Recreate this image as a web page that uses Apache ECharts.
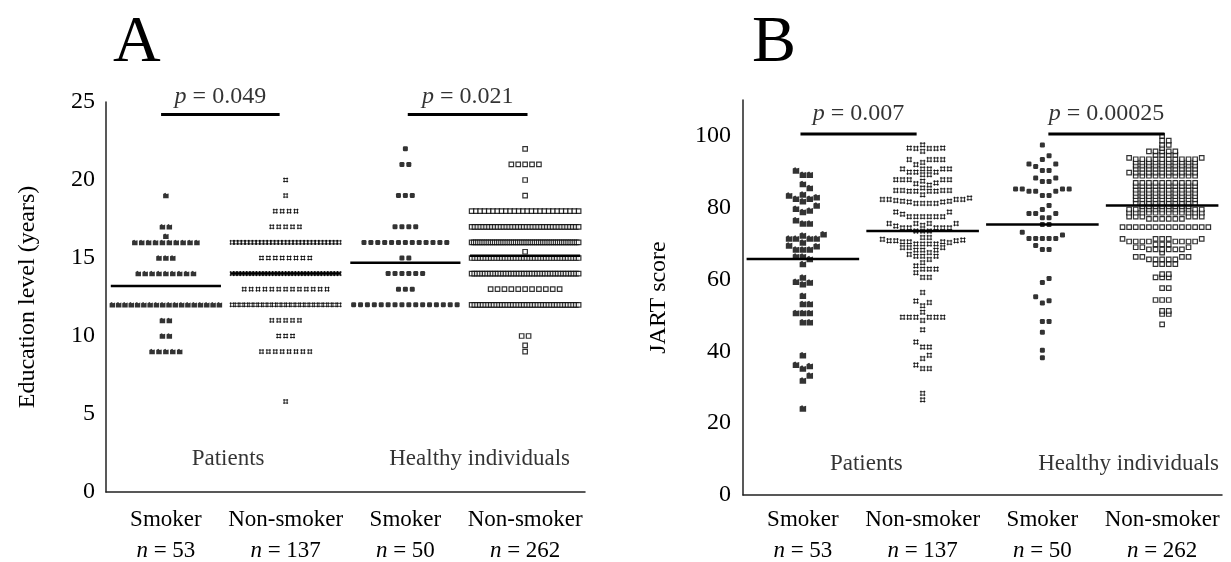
<!DOCTYPE html>
<html><head><meta charset="utf-8">
<script src="https://cdn.jsdelivr.net/npm/echarts@6/dist/echarts.min.js"></script>
<style>html,body{margin:0;padding:0;background:#fff}#c{width:1231px;height:562px}</style>
</head><body><div id="c"></div>
<script>
// ---------------- DATA ----------------
const categories = ['Smoker', 'Non-smoker', 'Smoker', 'Non-smoker'];
const nLabels = ['53', '137', '50', '262'];
const groupLabels = ['Patients', 'Healthy individuals'];
const pValuesA = ['0.049', '0.021'];
const pValuesB = ['0.007', '0.00025'];
const eduMeans = [13.2, 14.0, 14.7, 15.15];
const jartMeans = [65.7, 73.5, 75.3, 80.6];

// Panel A: education level (years)
const eduPatSmoker = [19,
  17, 17,
  16.4,
  16, 16, 16, 16, 16, 16, 16, 16, 16, 16,
  15, 15, 15,
  14, 14, 14, 14, 14, 14, 14, 14, 14,
  12, 12, 12, 12, 12, 12, 12, 12, 12, 12, 12, 12, 12, 12, 12, 12, 12, 12,
  11, 11,
  10, 10,
  9, 9, 9, 9, 9];
const eduPatNon = [20, 19,
  18, 18, 18, 18,
  17, 17, 17, 17, 17,
  16, 16, 16, 16, 16, 16, 16, 16, 16, 16, 16, 16, 16, 16, 16, 16, 16, 16, 16, 16, 16, 16, 16, 16, 16, 16, 16, 16, 16, 16,
  15, 15, 15, 15, 15, 15, 15, 15,
  14, 14, 14, 14, 14, 14, 14, 14, 14, 14, 14, 14, 14, 14, 14, 14, 14, 14, 14, 14, 14, 14, 14, 14, 14, 14, 14, 14, 14, 14, 14, 14, 14, 14,
  13, 13, 13, 13, 13, 13, 13, 13, 13, 13, 13, 13, 13,
  12, 12, 12, 12, 12, 12, 12, 12, 12, 12, 12, 12, 12, 12, 12, 12, 12, 12, 12, 12, 12, 12, 12, 12,
  11, 11, 11, 11, 11,
  10, 10, 10,
  9, 9, 9, 9, 9, 9, 9, 9,
  5.8];
const eduHeaSmoker = [22,
  21, 21,
  19, 19, 19,
  17, 17, 17, 17,
  16, 16, 16, 16, 16, 16, 16, 16, 16, 16, 16, 16, 16,
  15, 15,
  14, 14, 14, 14, 14, 14,
  13, 13, 13,
  12, 12, 12, 12, 12, 12, 12, 12, 12, 12, 12, 12, 12, 12, 12, 12];
const eduHeaNon = [22,
  21, 21, 21, 21, 21,
  20, 19,
  18, 18, 18, 18, 18, 18, 18, 18, 18, 18, 18, 18, 18, 18, 18, 18, 18, 18, 18, 18, 18, 18, 18, 18, 18, 18,
  17, 17, 17, 17, 17, 17, 17, 17, 17, 17, 17, 17, 17, 17, 17, 17, 17, 17, 17, 17, 17, 17, 17, 17, 17, 17, 17, 17, 17, 17, 17, 17, 17, 17, 17, 17, 17, 17,
  16, 16, 16, 16, 16, 16, 16, 16, 16, 16, 16, 16, 16, 16, 16, 16, 16, 16, 16, 16, 16, 16, 16, 16, 16, 16,
  16, 16, 16, 16, 16, 16, 16, 16, 16, 16, 16, 16, 16, 16, 16, 16, 16, 16, 16, 16, 16, 16, 16, 16, 16, 16,
  15.4,
  15, 15, 15, 15, 15, 15, 15, 15, 15, 15, 15, 15, 15, 15, 15, 15, 15, 15, 15, 15, 15, 15, 15, 15, 15, 15, 15, 15, 15, 15, 15, 15, 15, 15, 15, 15, 15, 15, 15, 15,
  14, 14, 14, 14, 14, 14, 14, 14, 14, 14, 14, 14, 14, 14, 14, 14, 14, 14, 14, 14, 14, 14, 14, 14, 14, 14, 14, 14, 14, 14, 14, 14, 14, 14, 14, 14, 14, 14, 14, 14, 14, 14,
  13, 13, 13, 13, 13, 13, 13, 13, 13, 13, 13,
  12, 12, 12, 12, 12, 12, 12, 12, 12, 12, 12, 12, 12, 12, 12, 12, 12, 12, 12, 12, 12, 12, 12, 12, 12, 12, 12, 12, 12, 12, 12, 12, 12, 12, 12, 12, 12, 12, 12, 12,
  10, 10, 9.4, 9];

// Panel B: JART score
const jartPatSmoker = [90.4, 89.2, 89.2, 86.6, 85.5,
  83.7, 82.9, 81.8, 82.5, 82.5, 83.4,
  80.6, 79.7, 78.8, 79.2,
  75.6, 75.6, 76.5,
  72.6, 71.4, 71.4, 71.4, 71.4, 72.3,
  70.3, 69.5, 68.4, 68.4, 68.4, 69.3,
  66.4, 64.3, 65.7, 66.4,
  60.6, 59.4, 58.7, 59.2,
  55.5, 53.2, 53.2, 50.7, 50.7, 50.7, 48.1, 48.1,
  38.9, 36.3, 35.2, 35.9, 33.3, 31.9, 24.1];
const jartPatNon = [96.6, 96.6, 95.7, 97.5, 96.5, 96.5, 96.5,
  93.4, 93.4, 92.0, 92.6, 93.4, 93.4,
  90.8, 90.8, 90.8, 89.9, 89.2, 89.2, 89.9, 89.9, 90.8, 90.8,
  87.8, 87.8, 86.9, 87.4, 86.7, 87.8, 87.8, 87.8,
  84.8, 84.8, 84.8, 86.3, 84.6, 84.6, 84.6, 84.6, 85.5, 84.8,
  81.8, 81.8, 81.2, 81.2, 82.7, 82.3, 82.3, 82.3, 83.6, 82.3, 81.2, 81.2, 81.6, 81.6, 82.0,
  78.8, 77.5, 77.5, 77.5, 77.5, 77.5, 77.5, 78.8, 78.2,
  75.6, 75.6, 74.4, 74.4, 74.4, 73.5, 73.5, 73.5, 74.4, 74.4, 75.6, 75.6, 74.9, 75.1,
  71.7, 70.8, 70.8, 70.8, 70.3, 69.9, 69.9, 69.9, 69.9, 70.5, 70.5, 70.5, 71.2, 71.7, 71.0,
  68.9, 68.9, 68.9, 67.5, 68.2, 68.2, 68.2,
  66.5, 66.5, 66.5, 67.0, 65.6,
  62.9, 63.8, 62.9, 64.7, 61.9, 60.6, 60.6, 62.9,
  56.4, 54.0, 52.7, 53.6,
  50.9, 49.5, 49.5, 49.5, 48.6, 49.5, 49.5, 49.5,
  46.0, 41.2, 41.2, 42.6, 38.0, 38.9, 36.2, 35.2, 35.2, 28.3, 26.5];
const jartHeaSmoker = [97.5, 94.5, 93.4,
  92.2, 91.5, 90.4, 90.4, 92.2,
  88.3, 87.3, 87.3, 88.3,
  85.2, 85.2, 84.6, 83.4, 83.4, 84.6, 84.6, 85.2, 85.2,
  79.5, 78.4, 77.2, 78.4, 78.4, 80.6, 77.2,
  75.3, 75.3,
  73.2, 71.4, 71.4, 71.4, 71.4, 71.4, 72.4,
  69.5, 68.4, 68.4,
  60.3, 59.2, 54.1, 53.5, 55.2, 48.3, 48.3, 45.3, 40.3, 38.2];
const jartHeaNon = [100.0, 98.7, 98.7, 97.5, 97.5, 96.6,
  95.7, 95.7, 95.7, 95.7, 95.7, 94.7, 94.7, 94.7, 94.7, 93.9, 93.9,
  93.5, 93.5, 93.5, 93.5, 93.5, 93.5, 93.5, 93.5, 93.5, 93.5,
  92.6, 92.6, 92.6, 92.6, 92.6, 92.6, 92.6, 92.6, 92.6, 92.6,
  91.7, 91.7, 91.7, 91.7, 91.7, 91.7, 91.7, 91.7, 91.7, 91.7,
  90.8, 90.8, 90.8, 90.8, 90.8, 90.8, 90.8, 90.8, 90.8, 90.8,
  89.8, 89.8, 89.8, 89.8, 89.8, 89.8, 89.8, 89.8, 89.8, 89.8, 89.8,
  88.9, 88.9, 88.9, 88.9, 88.9, 88.9, 88.9, 88.9, 88.9, 88.9,
  86.9, 86.9, 86.9, 86.9, 86.9, 86.9, 86.9, 86.9, 86.9, 86.9,
  86.0, 86.0, 86.0, 86.0, 86.0, 86.0, 86.0, 86.0, 86.0, 86.0,
  85.0, 85.0, 85.0, 85.0, 85.0, 85.0, 85.0, 85.0, 85.0, 85.0,
  84.1, 84.1, 84.1, 84.1, 84.1, 84.1, 84.1, 84.1, 84.1, 84.1,
  83.2, 83.2, 83.2, 83.2, 83.2, 83.2, 83.2, 83.2, 83.2, 83.2,
  82.3, 82.3, 82.3, 82.3, 82.3, 82.3, 82.3, 82.3, 82.3, 82.3,
  81.3, 81.3, 81.3, 81.3, 81.3, 81.3, 81.3, 81.3, 81.3, 81.3,
  80.4, 80.4, 80.4, 80.4, 80.4, 80.4, 80.4, 80.4,
  79.5, 79.5, 79.5, 79.5, 79.5, 79.5, 79.5, 79.5, 79.5, 79.5, 79.5, 79.5,
  78.6, 78.6, 78.6, 78.6, 78.6, 78.6, 78.6, 78.6, 78.6, 78.6, 78.6, 78.6,
  77.5, 77.5, 77.5, 77.5, 77.5, 77.5, 76.9, 76.9, 76.9, 76.9, 76.9, 76.9,
  74.6, 74.6, 74.6, 74.6, 74.6, 74.6, 74.6, 74.6, 74.6, 74.6, 74.6, 74.6, 74.6, 74.6,
  71.3, 71.3, 71.3, 71.3, 71.3,
  70.6, 70.6, 70.6, 70.6, 70.6, 70.6, 70.6, 70.6, 69.8, 69.8, 69.8,
  68.4, 68.4, 68.4, 68.4, 68.4, 68.4, 69.0, 69.0, 69.0, 67.5,
  65.6, 65.6, 65.6, 65.6, 65.6, 66.3, 66.3, 66.3, 66.3,
  64.3, 64.3, 64.3, 64.3, 61.5, 61.5, 60.6, 60.6, 60.6,
  57.6, 57.6, 54.3, 54.3, 54.3, 51.3, 51.3, 50.4, 50.4, 47.5];

// ---------------- CHART ----------------
const FONT = '"Liberation Serif","Times New Roman",Times,serif';
const chart = echarts.init(document.getElementById('c'));
const txt = { fontFamily: FONT, color: '#000' };

function catAxis(gi, margin) {
  return {
    type: 'category', gridIndex: gi, data: categories,
    axisLine: { show: true, onZero: false, lineStyle: { color: '#222', width: 1.5 } },
    axisTick: { show: false }, splitLine: { show: false },
    axisLabel: {
      interval: 0, margin: margin,
      formatter: (v, i) => '{c|' + v + '}\n{i|n}{c| = ' + nLabels[i] + '}',
      rich: {
        c: Object.assign({ fontSize: 23, lineHeight: 31 }, txt),
        i: Object.assign({ fontSize: 23, lineHeight: 31, fontStyle: 'italic' }, txt)
      }
    }
  };
}
function valXAxis(gi) {
  return { type: 'value', gridIndex: gi, min: -0.5, max: 3.5, show: false };
}
function yAx(gi, max, interval, name, gap, margin) {
  return {
    type: 'value', gridIndex: gi, min: 0, max: max, interval: interval, position: 'left',
    axisLine: { show: true, onZero: false, lineStyle: { color: '#222', width: 1.5 } },
    axisTick: { show: false }, splitLine: { show: false },
    axisLabel: Object.assign({ fontSize: 24, margin: margin,
      formatter: v => (v % interval === 0 && v <= max - (max % interval)) ? String(v) : '' }, txt),
    name: name, nameLocation: 'middle', nameRotate: 90, nameGap: gap,
    nameTextStyle: Object.assign({ fontSize: 24 }, txt)
  };
}

const baseOption = {
  animation: false,
  backgroundColor: '#fff',
  graphic: [
    { type: 'text', left: 113, top: 11, style: { text: 'A', font: '66px ' + FONT, fill: '#000' } },
    { type: 'text', left: 752, top: 11, style: { text: 'B', font: '66px ' + FONT, fill: '#000' } }
  ],
  grid: [
    { left: 106, right: 646, top: 102, bottom: 69 },
    { left: 743, right: 9, top: 100, bottom: 65 }
  ],
  xAxis: [catAxis(0, 12), valXAxis(0), catAxis(1, 9), valXAxis(1)],
  yAxis: [
    yAx(0, 25, 5, 'Education level (years)', 66, 11),
    yAx(1, 110, 20, 'JART score', 72, 12)
  ],
  series: []
};
chart.setOption(baseOption);

// scales from the library
function scaleFor(xi, yi) {
  const x0 = chart.convertToPixel({ xAxisIndex: xi }, 0);
  const x1 = chart.convertToPixel({ xAxisIndex: xi }, 1);
  const y0 = chart.convertToPixel({ yAxisIndex: yi }, 0);
  const y1 = chart.convertToPixel({ yAxisIndex: yi }, 1);
  return { px: x1 - x0, py: y0 - y1 };
}
const sA = scaleFor(1, 0), sB = scaleFor(3, 1);

// Panel A: each value forms a row, compressed to a max width
function rowLayout(vals, center, spacingPx, maxWPx, sc) {
  const counts = new Map();
  vals.forEach(v => counts.set(v, (counts.get(v) || 0) + 1));
  const out = [];
  counts.forEach((n, v) => {
    const sp = n > 1 ? Math.min(spacingPx, maxWPx / (n - 1)) : 0;
    for (let k = 0; k < n; k++) out.push([center + (k - (n - 1) / 2) * sp / sc.px, v]);
  });
  return out;
}
// Panel B: column beeswarm
function swarm(vals, center, colPx, minDy, sc) {
  const sorted = vals.slice().sort((a, b) => a - b);
  const cols = new Map();
  const out = [];
  sorted.forEach(v => {
    const y = v * sc.py;
    for (let s = 0; s < 200; s++) {
      const k = s === 0 ? 0 : (s % 2 === 1 ? (s + 1) / 2 : -s / 2);
      const arr = cols.get(k) || [];
      if (arr.every(yy => Math.abs(yy - y) >= minDy)) {
        arr.push(y); cols.set(k, arr);
        out.push([center + k * colPx / sc.px, v]);
        break;
      }
    }
  });
  return out;
}

const SHAPE_FILLED = 'path://M0,2 L4,0 L6,2 L10,1 L10,10 L0,10 Z';
const SHAPE_HASH = 'path://M2,0 L2,10 M8,0 L8,10 M0,2 L10,2 M0,8 L10,8';

function styleFor(g, panel) {
  if (g === 0) return { symbol: SHAPE_FILLED, symbolSize: panel === 'A' ? 5.5 : 6.5, itemStyle: { color: '#000' } };
  if (g === 1) return { symbol: SHAPE_HASH, symbolSize: panel === 'A' ? 5 : 5.5, itemStyle: { color: 'rgba(0,0,0,0)', borderColor: '#000', borderWidth: 1 } };
  if (g === 2) return { symbol: 'roundRect', symbolSize: 5, itemStyle: { color: '#000' } };
  return { symbol: 'rect', symbolSize: 4.5, itemStyle: { color: '#fff', borderColor: '#000', borderWidth: 1.2 } };
}

const series = [];
const eduGroups = [eduPatSmoker, eduPatNon, eduHeaSmoker, eduHeaNon];
const jartGroups = [jartPatSmoker, jartPatNon, jartHeaSmoker, jartHeaNon];
const swarmCol = [6.9, 6.7, 6.7, 6.6];
const swarmDy = [6.5, 5.5, 6.5, 3.0];

eduGroups.forEach((vals, g) => {
  series.push(Object.assign({
    type: 'scatter', xAxisIndex: 1, yAxisIndex: 0, silent: true, z: 2,
    data: rowLayout(vals, g, 6.9, 107, sA)
  }, styleFor(g, 'A')));
});
jartGroups.forEach((vals, g) => {
  series.push(Object.assign({
    type: 'scatter', xAxisIndex: 3, yAxisIndex: 1, silent: true, z: 2,
    data: swarm(vals, g, swarmCol[g], swarmDy[g], sB)
  }, styleFor(g, 'B')));
});

function hLine(xi, yi, x0, x1, y, w) {
  return { type: 'line', xAxisIndex: xi, yAxisIndex: yi, silent: true, z: 4, symbol: 'none',
    data: [[x0, y], [x1, y]], lineStyle: { color: '#000', width: w } };
}
eduMeans.forEach((m, g) => series.push(hLine(1, 0, g - 0.46, g + 0.46, m, 2.5)));
jartMeans.forEach((m, g) => series.push(hLine(3, 1, g - 0.47, g + 0.47, m, 2.5)));

function textPoint(xi, yi, x, y, formatter, pos, dist, rich) {
  return { type: 'scatter', xAxisIndex: xi, yAxisIndex: yi, silent: true, z: 5,
    symbolSize: 0, itemStyle: { color: 'rgba(0,0,0,0)' }, data: [[x, y]],
    label: { show: true, position: pos, distance: dist, formatter: formatter, rich: rich } };
}
const pRich = {
  i: Object.assign({ fontSize: 24, fontStyle: 'italic' }, txt),
  t: Object.assign({ fontSize: 24 }, txt)
};
const annRich = { t: Object.assign({ fontSize: 23 }, txt) };

// p-value brackets
const pA = [[-0.04, 0.95], [2.02, 3.02]];
const pB = [[-0.02, 0.95], [2.05, 3.02]];
pA.forEach((r, k) => {
  series.push(hLine(1, 0, r[0], r[1], 24.2, 3));
  series.push(textPoint(1, 0, (r[0] + r[1]) / 2, 24.2, '{i|p}{t| = ' + pValuesA[k] + '}', 'top', 6, pRich));
});
pB.forEach((r, k) => {
  series.push(hLine(3, 1, r[0], r[1], 100.55, 3));
  series.push(textPoint(3, 1, (r[0] + r[1]) / 2, 100.55, '{i|p}{t| = ' + pValuesB[k] + '}', 'top', 8, pRich));
});
// group annotations
series.push(textPoint(1, 0, 0.52, 2.1, '{t|' + groupLabels[0] + '}', 'inside', 0, annRich));
series.push(textPoint(1, 0, 2.62, 2.1, '{t|' + groupLabels[1] + '}', 'inside', 0, annRich));
series.push(textPoint(3, 1, 0.53, 8.6, '{t|' + groupLabels[0] + '}', 'inside', 0, annRich));
series.push(textPoint(3, 1, 2.72, 8.6, '{t|' + groupLabels[1] + '}', 'inside', 0, annRich));

chart.setOption({ series: series });
</script>
</body></html>
